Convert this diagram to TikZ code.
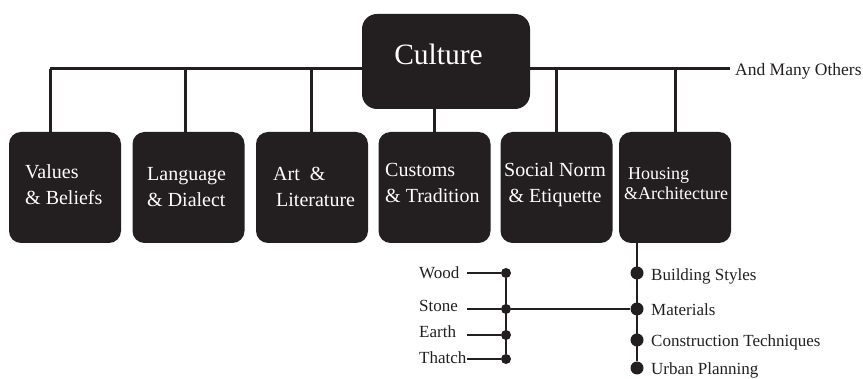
\documentclass[tikz,border=0pt]{standalone}
\usepackage{fontspec}
\setmainfont{LiberationSerif}[Extension=.ttf, UprightFont=*-Regular, BoldFont=*-Bold, ItalicFont=*-Italic, BoldItalicFont=*-BoldItalic]
\definecolor{ink}{HTML}{231F20}
\begin{document}
\begin{tikzpicture}[x=1pt,y=-1pt,
  catbox/.style={fill=ink, rounded corners=12pt, minimum width=112pt, minimum height=111pt, inner sep=0pt},
  boxtext/.style={text=white, inner sep=0pt, anchor=west, font={\fontsize{20}{26}\selectfont}},
  mainline/.style={draw=ink, line width=3pt},
  subline/.style={draw=ink, line width=2pt},
  thinline/.style={draw=ink, line width=1.5pt},
  bigdot/.style={circle, fill=ink, inner sep=0pt, minimum size=13pt},
  smalldot/.style={circle, fill=ink, inner sep=0pt, minimum size=10pt},
  lbl/.style={inner sep=0pt, anchor=base west, text=ink, font={\fontsize{17}{20}\selectfont}}]
\useasboundingbox (0,0) rectangle (863,379);

% main horizontal line
\coordinate (hl) at (50,69);
\coordinate (hr) at (730,69);
\draw[mainline] (hl) -- (hr);
\node[lbl, font={\fontsize{17.5}{20}\selectfont}] (others) at (735,76) {And Many Others};

% culture box
\node[fill=ink, rounded corners=15pt, minimum width=168pt, minimum height=95pt, inner sep=0pt] (c) at (446,61.5) {};
\node[text=white, inner sep=0pt, anchor=base, font={\fontsize{29.5}{34}\selectfont}] (ct) at (438.5,65) {Culture};

% category boxes
\node[catbox] (b1) at (65,187.5) {};
\node[catbox] (b2) at (188.5,187.5) {};
\node[catbox] (b3) at (312,187.5) {};
\node[catbox] (b4) at (434.5,187.5) {};
\node[catbox] (b5) at (556.5,187.5) {};
\node[catbox] (b6) at (675,187.5) {};

\node[boxtext, align=left] (t1) at (25,186) {\strut Values\\\strut\& Beliefs};
\node[boxtext, align=left] (t2) at (147,188) {\strut Language\\\strut\& Dialect};
\node[boxtext, align=left] (t3) at (273,188) {\strut Art~~\&\\\strut\hspace*{3pt}Literature};
\node[boxtext, align=left] (t4) at (385,184) {\strut Customs\\\strut\& Tradition};
\node[boxtext, align=center, anchor=center] (t5) at (555,184) {\strut Social Norm\\\strut\& Etiquette};
\node[boxtext, align=left, font={\fontsize{18}{20.5}\selectfont}] (t6) at (624,185.5) {\strut\hspace*{4pt}Housing\\\strut\&Architecture};

% connectors from the main line
\coordinate (j1) at (50,69);
\coordinate (j2) at (185,69);
\coordinate (j3) at (311,69);
\coordinate (j5) at (556,69);
\coordinate (j6) at (675,69);
\draw[mainline] (j1) -- (j1 |- b1.north);
\draw[mainline] (j2) -- (j2 |- b2.north);
\draw[mainline] (j3) -- (j3 |- b3.north);
\draw[mainline] (b4.north) -- (b4.north |- c.south);
\draw[mainline] (j5) -- (j5 |- b5.north);
\draw[mainline] (j6) -- (j6 |- b6.north);

% housing sub-items
\node[bigdot] (d1) at (637,273) {};
\node[bigdot] (d2) at (637,309) {};
\node[bigdot] (d3) at (637,340) {};
\node[bigdot] (d4) at (637,368) {};
\draw[subline] (d1 |- b6.south) -- (d4);
\node[lbl] (m1) at (651,281) {Building Styles};
\node[lbl] (m2) at (651,316) {Materials};
\node[lbl] (m3) at (651,347) {Construction Techniques};
\node[lbl] (m4) at (651,375) {Urban Planning};

% materials sub-items
\node[smalldot] (e1) at (506,273) {};
\node[smalldot] (e2) at (506,309) {};
\node[smalldot] (e3) at (506,335) {};
\node[smalldot] (e4) at (506,359) {};
\draw[thinline] (e1) -- (e4);
\draw[thinline] (e2) -- (d2);
\node[lbl] (w1) at (419,279) {Wood};
\node[lbl] (w2) at (419,312) {Stone};
\node[lbl] (w3) at (419,338) {Earth};
\node[lbl] (w4) at (419,364) {Thatch};
\coordinate (s1) at (467,273);
\coordinate (s2) at (467,309);
\coordinate (s3) at (467,335);
\coordinate (s4) at (467,359);
\draw[thinline] (s1) -- (e1);
\draw[thinline] (s2) -- (e2);
\draw[thinline] (s3) -- (e3);
\draw[thinline] (s4) -- (e4);
\end{tikzpicture}
\end{document}
